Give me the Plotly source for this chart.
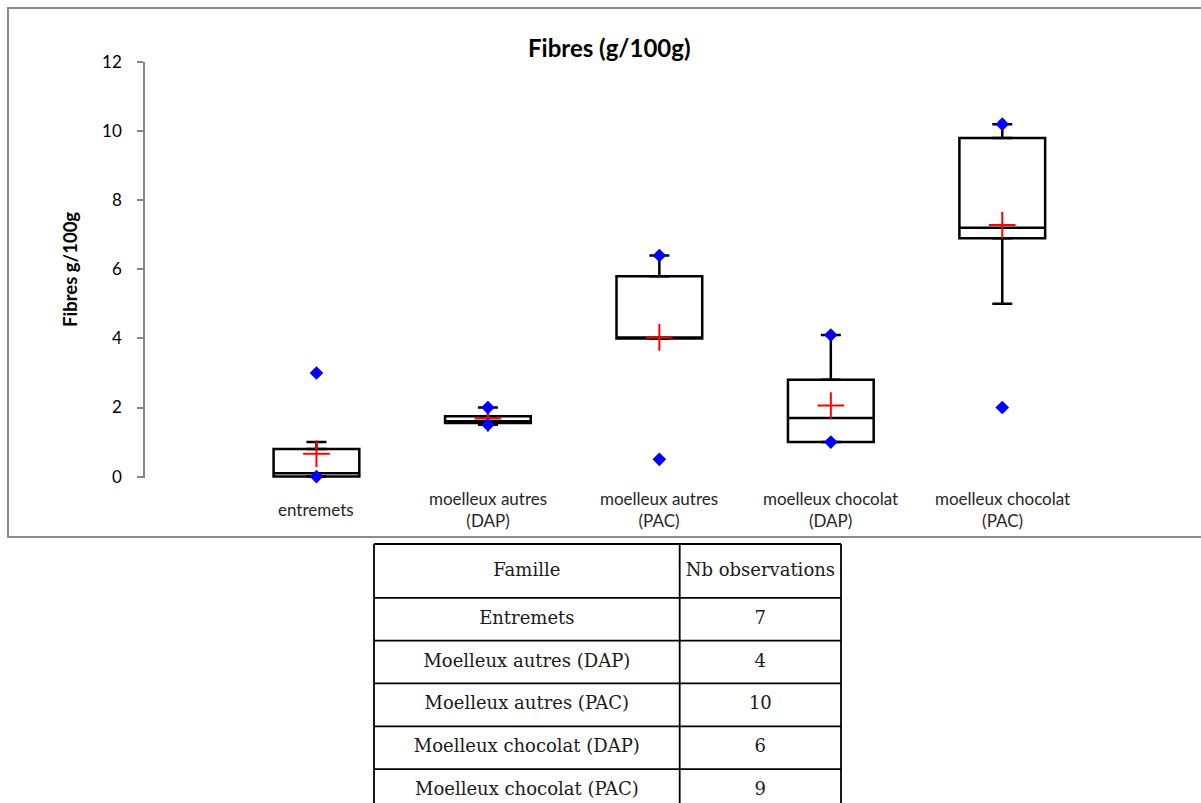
import plotly.graph_objects as go

# Box-plot statistics per family (fibres, g/100g)
categories = ["entremets", "moelleux autres<br>(DAP)", "moelleux autres<br>(PAC)",
              "moelleux chocolat<br>(DAP)", "moelleux chocolat<br>(PAC)"]
q1 = [0.0, 1.55, 4.0, 1.0, 6.9]
median = [0.1, 1.6, 4.0, 1.7, 7.2]
q3 = [0.8, 1.75, 5.8, 2.8, 9.8]
whisker_low = [0.0, 1.5, 4.0, 1.0, 5.0]
whisker_high = [1.0, 2.0, 6.4, 4.1, 10.2]
mean = [0.66, 1.68, 4.03, 2.06, 7.28]
minimum = [0.0, 1.5, 0.5, 1.0, 2.0]
maximum = [3.0, 2.0, 6.4, 4.1, 10.2]

# Observation counts table
table_header = ["Famille", "Nb observations"]
families = ["Entremets", "Moelleux autres (DAP)", "Moelleux autres (PAC)",
            "Moelleux chocolat (DAP)", "Moelleux chocolat (PAC)"]
n_obs = [7, 4, 10, 6, 9]

y_ticks = [0, 2, 4, 6, 8, 10, 12]

W, H = 1201, 803
pos = list(range(len(categories)))
FONT = "Lato"
TABLE_FONT = "DejaVu Serif"
AXIS_GREY = "#868686"

# table geometry (pixel units inside the table subplot)
col_widths = [307, 162]
header_h = 54
row_h = 43


def px(x):
    return x / W


def py(y):
    return 1 - y / H


fig = go.Figure()

# Boxes (Q1-median-Q3)
fig.add_trace(go.Box(
    x=pos, q1=q1, median=median, q3=q3,
    lowerfence=q1, upperfence=q3,
    width=0.5, fillcolor="white",
    line=dict(color="black", width=2.5),
    boxpoints=False, hoverinfo="skip", showlegend=False,
))

# Whiskers with end caps
fig.add_trace(go.Scatter(
    x=pos, y=q3, mode="markers",
    marker=dict(size=1, color="rgba(0,0,0,0)"),
    error_y=dict(type="data", symmetric=False,
                 array=[h - t for h, t in zip(whisker_high, q3)],
                 arrayminus=[0] * len(pos),
                 color="black", thickness=2.5, width=10),
    hoverinfo="skip", showlegend=False,
))
fig.add_trace(go.Scatter(
    x=pos, y=q1, mode="markers",
    marker=dict(size=1, color="rgba(0,0,0,0)"),
    error_y=dict(type="data", symmetric=False,
                 array=[0] * len(pos),
                 arrayminus=[b - l for b, l in zip(q1, whisker_low)],
                 color="black", thickness=2.5, width=10),
    hoverinfo="skip", showlegend=False,
))

# Means
fig.add_trace(go.Scatter(
    x=pos, y=mean, mode="markers",
    marker=dict(symbol="cross-thin", size=19, color="red",
                line=dict(color="red", width=2)),
    cliponaxis=False, showlegend=False,
))

# Minimum and maximum
fig.add_trace(go.Scatter(
    x=pos + pos, y=minimum + maximum, mode="markers",
    marker=dict(symbol="diamond", size=10.5, color="#0000FF"),
    cliponaxis=False, showlegend=False,
))

# Category labels under each box
for i, label in enumerate(categories):
    fig.add_annotation(
        x=i, xref="x", y=py(509), yref="paper",
        text=label, showarrow=False, xanchor="center", yanchor="middle",
        font=dict(family=FONT, size=17, color="#262626"),
    )

# Y-axis title
fig.add_annotation(
    x=px(70), xref="paper", y=py(270), yref="paper",
    text="<b>Fibres g/100g</b>", textangle=-90, showarrow=False,
    xanchor="center", yanchor="middle",
    font=dict(family=FONT, size=18.5, color="black"),
)

# Chart title
fig.add_annotation(
    x=px(609), xref="paper", y=py(47), yref="paper",
    text="<b>Fibres (g/100g)</b>", showarrow=False,
    xanchor="center", yanchor="middle",
    font=dict(family=FONT, size=24, color="black"),
)

# Chart frame
fig.add_shape(
    type="rect", xref="paper", yref="paper",
    x0=px(8), x1=px(1215), y0=py(537), y1=py(8),
    line=dict(color="#8c8c8c", width=2), fillcolor="rgba(0,0,0,0)", layer="below",
)

# ---- Observation counts table (drawn on its own subplot) ----
col_edges = [0]
for w in col_widths:
    col_edges.append(col_edges[-1] + w)
row_edges = [0, header_h]
for _ in families:
    row_edges.append(row_edges[-1] + row_h)
table_w = col_edges[-1]

line_style = dict(color="black", width=1.8)
for xe in col_edges:
    fig.add_shape(type="line", xref="x2", yref="y3",
                  x0=xe, x1=xe, y0=row_edges[0], y1=row_edges[-1], line=line_style)
for ye in row_edges:
    fig.add_shape(type="line", xref="x2", yref="y3",
                  x0=0, x1=table_w, y0=ye, y1=ye, line=line_style)

col_centres = [(a + b) / 2 for a, b in zip(col_edges[:-1], col_edges[1:])]
row_centres = [(a + b) / 2 for a, b in zip(row_edges[:-1], row_edges[1:])]

cell_x, cell_y, cell_text = [], [], []
for c, head in enumerate(table_header):
    cell_x.append(col_centres[c])
    cell_y.append(row_centres[0] + 1)
    cell_text.append(head)
for r, (fam, n) in enumerate(zip(families, n_obs)):
    cell_x += [col_centres[0], col_centres[1]]
    cell_y += [row_centres[r + 1], row_centres[r + 1]]
    cell_text += [fam, str(n)]

fig.add_trace(go.Scatter(
    x=cell_x, y=cell_y, text=cell_text, mode="text",
    textposition="middle center",
    textfont=dict(family=TABLE_FONT, size=18, color="#1a1a1a"),
    xaxis="x2", yaxis="y3", cliponaxis=False,
    hoverinfo="skip", showlegend=False,
))

table_top = 544
fig.update_layout(
    width=W, height=H,
    margin=dict(l=0, r=0, t=0, b=0),
    paper_bgcolor="white", plot_bgcolor="white",
    xaxis=dict(domain=[px(145), px(1088)], range=[-1, 4.5], automargin=False,
               showticklabels=False, showgrid=False,
               zeroline=False, showline=False, ticks=""),
    yaxis=dict(domain=[py(478), py(62)], range=[-0.04, 12], tickvals=y_ticks,
               automargin=False, ticks="outside", ticklen=6,
               tickwidth=1.5, tickcolor=AXIS_GREY, showline=True,
               linecolor=AXIS_GREY, linewidth=1.5, showgrid=False, zeroline=False,
               ticklabelstandoff=12,
               tickfont=dict(family=FONT, size=17, color="black")),
    yaxis2=dict(domain=[py(478), py(62)], range=[-0.04, 12], tickvals=y_ticks,
                overlaying="y", anchor="x", automargin=False,
                side="left", ticks="inside", ticklen=6, tickwidth=1.5,
                tickcolor=AXIS_GREY, showticklabels=False, showline=False,
                showgrid=False, zeroline=False),
    xaxis2=dict(domain=[px(373), px(373 + table_w)], range=[-1, table_w + 1],
                anchor="y3", automargin=False, visible=False, fixedrange=True),
    yaxis3=dict(domain=[0, py(table_top - 1)], range=[H - table_top + 1, -1],
                anchor="x2", automargin=False, visible=False, fixedrange=True),
)

fig.write_html("out.html")
